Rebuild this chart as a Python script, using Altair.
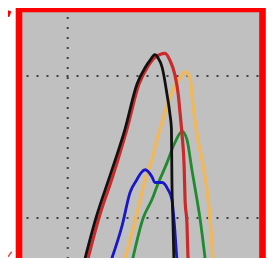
import altair as alt
import pandas as pd

# grid positions (data units)
x_grid = [1.0]
y_grid = [1.0, 2.0]

# curves
black_x = [1.36, 1.58, 1.87, 2.18, 2.42, 2.59, 2.69, 2.79, 2.85, 2.94, 3.04, 3.10, 3.13, 3.14, 3.16, 3.18]
black_y = [0.72, 1.00, 1.30, 1.63, 1.94, 2.06, 2.11, 2.15, 2.13, 2.06, 1.87, 1.73, 1.63, 1.27, 0.99, 0.72]

red_x = [1.42, 1.64, 1.93, 2.22, 2.46, 2.65, 2.79, 3.00, 3.10, 3.20, 3.27, 3.31, 3.35, 3.39, 3.41, 3.45, 3.47]
red_y = [0.72, 1.00, 1.30, 1.63, 1.94, 2.07, 2.13, 2.16, 2.11, 2.01, 1.87, 1.73, 1.58, 1.37, 1.13, 0.95, 0.72]

orange_x = [2.18, 2.40, 2.49, 2.59, 2.73, 2.83, 2.94, 3.10, 3.31, 3.41, 3.51, 3.57, 3.66, 3.78, 3.86, 3.92, 3.98]
orange_y = [0.72, 1.00, 1.13, 1.27, 1.41, 1.55, 1.68, 1.85, 1.99, 2.03, 1.99, 1.80, 1.58, 1.37, 1.20, 1.00, 0.72]

green_x = [2.34, 2.55, 2.73, 2.83, 3.04, 3.20, 3.35, 3.45, 3.55, 3.63, 3.72, 3.82]
green_y = [0.72, 1.00, 1.13, 1.22, 1.39, 1.53, 1.61, 1.55, 1.34, 1.18, 0.99, 0.72]

blue_x = [1.91, 2.12, 2.28, 2.42, 2.51, 2.59, 2.73, 2.79, 2.94, 3.06, 3.14, 3.18, 3.24]
blue_y = [0.72, 0.95, 1.18, 1.27, 1.32, 1.34, 1.29, 1.25, 1.25, 1.20, 1.13, 1.00, 0.72]

# stray red marks outside the frame
marker_x = [-0.236, -0.329]
marker_y = [2.442, 0.789]
slash_x = [-0.226]
slash_x2 = [-0.150]
slash_y = [0.727]
slash_y2 = [0.763]

xs = alt.Scale(domain=[0, 5], nice=False, zero=False)
ys = alt.Scale(domain=[0, 2.472], nice=False, zero=False)


def series(xv, yv):
    return pd.DataFrame({"x": xv, "y": yv, "i": list(range(len(xv)))})


def line(xv, yv, color, w):
    return alt.Chart(series(xv, yv)).mark_line(
        color=color, strokeWidth=w, strokeCap="round", strokeJoin="round",
        interpolate="monotone",
    ).encode(
        x=alt.X("x:Q", scale=xs, axis=None),
        y=alt.Y("y:Q", scale=ys, axis=None),
        order="i:Q",
    )


vgrid = alt.Chart(pd.DataFrame({"x": x_grid})).mark_rule(
    color="#404040", strokeWidth=2, strokeDash=[2, 8], strokeDashOffset=2
).encode(x=alt.X("x:Q", scale=xs, axis=None))

hgrid = alt.Chart(pd.DataFrame({"y": y_grid})).mark_rule(
    color="#404040", strokeWidth=2, strokeDash=[2, 8], strokeDashOffset=6
).encode(y=alt.Y("y:Q", scale=ys, axis=None))

markers = alt.Chart(pd.DataFrame({"x": marker_x, "y": marker_y})).mark_square(
    color="#ff0000", size=36, angle=20, opacity=1
).encode(
    x=alt.X("x:Q", scale=xs, axis=None),
    y=alt.Y("y:Q", scale=ys, axis=None),
)

slash = alt.Chart(pd.DataFrame({"x": slash_x, "x2": slash_x2, "y": slash_y, "y2": slash_y2})).mark_rule(
    color="#ff4040", strokeWidth=1.5
).encode(
    x=alt.X("x:Q", scale=xs, axis=None),
    x2="x2:Q",
    y=alt.Y("y:Q", scale=ys, axis=None),
    y2="y2:Q",
)

chart = alt.layer(
    vgrid,
    hgrid,
    line(orange_x, orange_y, "#f0b85c", 3.5),
    line(green_x, green_y, "#1f8a2e", 2.8),
    line(blue_x, blue_y, "#1818c8", 2.8),
    line(red_x, red_y, "#cc2a2a", 3.2),
    line(black_x, black_y, "#111111", 2.8),
    markers,
    slash,
).properties(
    width=243.5,
    height=351,
    padding={"left": 11, "top": 1, "right": 5, "bottom": 0},
    autosize="none",
    background="white",
).configure_view(
    stroke="#ff0000", strokeWidth=6.6, fill="#c0c0c0"
)

chart.save("out.html", embed_options={"renderer": "svg", "actions": False})
